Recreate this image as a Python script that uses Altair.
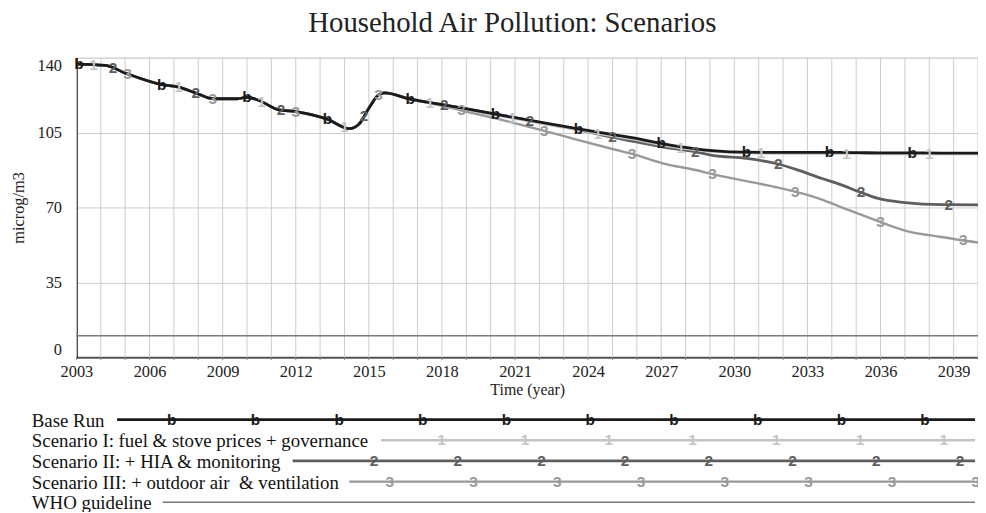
import altair as alt
import numpy as np
import pandas as pd

# ---------------- data ----------------
years = [2003, 2004.2, 2005, 2006.5, 2007.2, 2007.9, 2008.6, 2009.6, 2010.0, 2010.5,
         2011.3, 2012.0, 2013.3, 2014.2, 2014.6, 2015.0, 2015.4, 2015.65, 2016.7, 2017.5,
         2018.85, 2020.2, 2022.2, 2023.6, 2025.0, 2025.8, 2027.1, 2028.4, 2029.1, 2030.5,
         2031.8, 2032.5, 2033.6, 2034.3, 2035.2, 2035.9, 2037.0, 2038.5, 2040]

base_run = [137.0, 136.4, 132.8, 127.4, 126.2, 123.5, 120.8, 120.8, 121.5, 120.0,
            115.6, 114.8, 111.2, 106.8, 109.0, 116.4, 122.6, 123.5, 120.6, 119.0,
            116.4, 113.6, 109.5, 106.7, 104.0, 102.6, 99.7, 97.4, 96.6, 95.8,
            95.7, 95.7, 95.7, 95.7, 95.6, 95.5, 95.5, 95.4, 95.4]

scenario_1 = [137.0, 136.4, 132.8, 127.4, 126.2, 123.5, 120.8, 120.8, 121.5, 120.0,
              115.6, 114.8, 111.2, 106.8, 109.0, 116.4, 122.6, 123.5, 120.6, 118.8,
              116.0, 113.1, 109.0, 106.1, 103.3, 101.9, 98.9, 96.8, 96.1, 95.4,
              95.2, 95.2, 95.2, 95.2, 95.1, 95.0, 95.0, 94.9, 94.9]

scenario_2 = [137.0, 136.4, 132.8, 127.4, 126.2, 123.5, 120.8, 120.8, 121.5, 120.0,
              115.6, 114.8, 111.2, 106.8, 109.0, 116.4, 122.6, 123.5, 120.6, 119.0,
              116.4, 113.6, 109.3, 106.3, 102.8, 101.0, 98.2, 96.0, 94.3, 92.9,
              90.3, 87.9, 83.5, 80.9, 77.0, 74.2, 72.3, 71.3, 71.2]

scenario_3 = [137.0, 136.4, 132.8, 127.4, 126.2, 123.5, 120.8, 120.8, 121.5, 120.0,
              115.6, 114.8, 111.2, 106.8, 109.0, 116.4, 122.6, 123.5, 120.6, 118.8,
              115.2, 111.6, 105.8, 101.5, 97.3, 95.0, 90.5, 87.5, 85.6, 82.3,
              79.3, 77.4, 73.7, 70.5, 66.6, 63.6, 59.2, 56.2, 53.6]

who_guideline = 10

series_names = ["Base Run",
                "Scenario I: fuel & stove prices + governance",
                "Scenario II: + HIA & monitoring",
                "Scenario III: + outdoor air\u00a0 & ventilation",
                "WHO guideline"]
marker_chars = ["b", "1", "2", "3"]

# years at which the series markers sit on the lines
markers_base = [2003.1, 2006.5, 2010.0, 2013.3, 2016.7, 2020.2, 2023.6, 2027.0, 2030.5, 2033.9, 2037.3]
markers_s1 = [2003.7, 2007.2, 2010.6, 2014.0, 2017.5, 2020.9, 2024.4, 2027.8, 2031.1, 2034.6, 2038.0]
markers_s2 = [2004.5, 2007.9, 2011.4, 2014.8, 2018.1, 2021.6, 2025.0, 2028.4, 2031.8, 2035.2, 2038.8]
markers_s3 = [2005.1, 2008.6, 2012.0, 2015.4, 2018.8, 2022.2, 2025.8, 2029.1, 2032.5, 2036.0, 2039.4]

y_ticks = [0, 35, 70, 105, 140]
x_label_years = list(range(2003, 2041, 3))
x_grid_years = list(range(2003, 2041))

# ---------------- styles / layout ----------------
colors = ["#1a1a1a", "#c4c4c4", "#5e5e5e", "#999999", "#7a7a7a"]
widths = [2.8, 2.4, 2.8, 2.4, 1.6]
SERIF = "Liberation Serif"
SANS = "Liberation Sans"
W, H = 909, 302

x_scale = alt.Scale(domain=[2003, 2040], nice=False, zero=False)
y_scale = alt.Scale(domain=[0, 140], nice=False, zero=True)

values = [base_run, scenario_1, scenario_2, scenario_3]
marker_years = [markers_base, markers_s1, markers_s2, markers_s3]

x_axis = alt.Axis(values=x_label_years, format="d",
                  grid=False, ticks=False,
                  domainColor="#555555", domainWidth=2,
                  labelFont=SERIF, labelFontSize=16.5, labelColor="#222222",
                  labelPadding=6, labelFlush=False, labelOverlap=False,
                  title="Time (year)", titleFont=SERIF, titleFontSize=16,
                  titleFontWeight="normal", titleColor="#222222", titlePadding=2)
y_axis = alt.Axis(values=y_ticks, grid=True, gridColor="#cccccc", gridWidth=1,
                  domainColor="#000000", domainWidth=1.5, ticks=False,
                  labelFont=SERIF, labelFontSize=16.5, labelColor="#222222",
                  labelPadding=15, labelFlush=True, labelOverlap=False,
                  title="microg/m3", titleFont=SERIF, titleFontSize=16.5,
                  titleFontWeight="normal", titleColor="#222222", titlePadding=11)

X = lambda f: alt.X(f, scale=x_scale)
Y = lambda f: alt.Y(f, scale=y_scale)

layers = []
# yearly vertical grid lines and small ticks below the axis
grid_df = pd.DataFrame({"year": x_grid_years})
layers.append(alt.Chart(grid_df).mark_rule(color="#cccccc", strokeWidth=1).encode(
    x=alt.X("year:Q", scale=x_scale, axis=x_axis)))
layers.append(alt.Chart(grid_df).mark_rule(color="#888888", strokeWidth=1).encode(
    x=X("year:Q"), y=alt.value(H), y2=alt.value(H + 3)))

# axes carrier for y
axis_df = pd.DataFrame({"year": [2003, 2040], "v": [0, 140]})
layers.append(alt.Chart(axis_df).mark_point(opacity=0).encode(
    x=X("year:Q"), y=alt.Y("v:Q", scale=y_scale, axis=y_axis)))

# WHO guideline
who_df = pd.DataFrame({"year": [years[0], years[-1]], "v": [who_guideline, who_guideline]})
layers.append(alt.Chart(who_df).mark_line(color=colors[4], strokeWidth=widths[4]).encode(
    x=X("year:Q"), y=Y("v:Q")))

# series lines, drawn III, II, I, base (base on top)
for i in [3, 2, 1, 0]:
    df = pd.DataFrame({"year": years, "v": values[i]})
    layers.append(alt.Chart(df).mark_line(color=colors[i], strokeWidth=widths[i],
                                          interpolate="monotone").encode(
        x=X("year:Q"), y=Y("v:Q")))

# markers on the lines
for i in [3, 2, 1, 0]:
    my = np.interp(marker_years[i], years, values[i])
    df = pd.DataFrame({"year": marker_years[i], "v": my, "t": marker_chars[i]})
    layers.append(alt.Chart(df).mark_text(color=colors[i], font=SANS, fontSize=15.5,
                                          fontWeight="bold", baseline="middle",
                                          align="center").encode(
        x=X("year:Q"), y=Y("v:Q"), text="t:N"))

# ---------------- legend below the plot (pixel layout) ----------------
row_y = [365.0, 385.8, 406.6, 427.4, 448.2]
line_x0 = [41, 307, 218, 275, 87]
line_x1 = 906
text_x = -45
leg_marker_start = [96, 368, 300, 316]
leg_marker_count = [10, 7, 8, 8]
leg_step = 84.4

for i, name in enumerate(series_names):
    lab = pd.DataFrame({"t": [name]})
    layers.append(alt.Chart(lab).mark_text(font=SERIF, fontSize=19, color="#111111",
                                           align="left", baseline="middle").encode(
        x=alt.value(text_x), y=alt.value(row_y[i] + 1), text="t:N"))
    layers.append(alt.Chart(lab).mark_rule(color=colors[i], strokeWidth=widths[i]).encode(
        x=alt.value(line_x0[i]), x2=alt.value(line_x1), y=alt.value(row_y[i])))

for i in range(4):
    px = [leg_marker_start[i] + k * leg_step for k in range(leg_marker_count[i])]
    df = pd.DataFrame({"px": px, "py": [row_y[i]] * len(px), "t": marker_chars[i]})
    layers.append(alt.Chart(df).mark_text(color=colors[i], font=SANS, fontSize=15.5,
                                          fontWeight="bold", baseline="middle",
                                          align="center").encode(
        x=alt.X("px:Q", scale=None, axis=None),
        y=alt.Y("py:Q", scale=None, axis=None), text="t:N"))

chart = alt.layer(*layers).properties(
    width=W, height=H,
    title=alt.TitleParams("Household Air Pollution: Scenarios", font=SERIF, fontSize=29,
                          fontWeight="normal", color="#222222", anchor="middle",
                          dx=-15, offset=17),
    autosize=alt.AutoSizeParams(type="none"),
    padding={"left": 69, "top": 48, "right": 0, "bottom": 154},
).configure_view(stroke="#333333", strokeWidth=1).configure_axis(
    labelOverlap=False).configure(background="white")

chart.save("out.html", embed_options={"renderer": "svg", "actions": False})
